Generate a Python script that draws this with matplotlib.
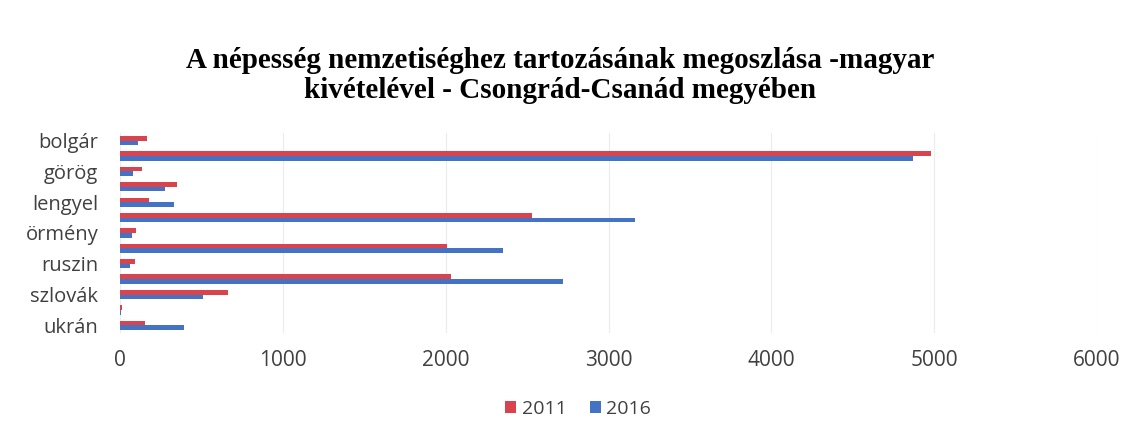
import numpy as np
import matplotlib.pyplot as plt

# Data
categories = ['bolgár', 'cigány', 'görög', 'horvát', 'lengyel', 'német', 'örmény',
              'román', 'ruszin', 'szerb', 'szlovák', 'szlovén', 'ukrán']
values_2011 = [165, 4980, 135, 350, 178, 2530, 95, 2005, 92, 2030, 663, 8, 153]
values_2016 = [110, 4870, 80, 276, 331, 3160, 70, 2350, 60, 2720, 510, 5, 393]
x_ticks = [0, 1000, 2000, 3000, 4000, 5000, 6000]

fig = plt.figure(figsize=(11.25, 4.37), dpi=100)
ax = fig.add_axes([0.107, 0.238, 0.868, 0.458])

y = np.arange(len(categories))
h = 0.3
ax.barh(y - h / 2, values_2011, height=h, color='#D9434E', label='2011', zorder=3)
ax.barh(y + h / 2, values_2016, height=h, color='#4472C4', label='2016', zorder=3)

ax.set_ylim(len(categories) - 0.5, -0.5)
ax.set_xlim(0, 6000)
ax.set_xticks(x_ticks)
ax.set_xticklabels([str(t) for t in x_ticks], fontsize=15, color='#404040',
                   family='Open Sans')
ax.set_yticks(y[::2])
ax.set_yticklabels(categories[::2], fontsize=14.5, color='#404040', family='Open Sans')
ax.tick_params(length=0, pad=16)
ax.tick_params(axis='x', pad=12)
ax.grid(axis='x', color='#ececec', linewidth=0.8, zorder=0)
for s in ax.spines.values():
    s.set_visible(False)

fig.text(0.498, 0.827, 'A népesség nemzetiséghez tartozásának megoszlása -magyar\n'
         'kivételével - Csongrád-Csanád megyében',
         ha='center', va='center', fontsize=21, fontweight='bold',
         family='Liberation Serif', linespacing=1.12)

fig.legend(loc='center', bbox_to_anchor=(0.514, 0.064), ncol=2, frameon=False,
           prop={'family': 'Open Sans', 'size': 14}, handlelength=0.55,
           handleheight=0.55, columnspacing=1.2, handletextpad=0.3,
           labelcolor='#404040')

fig.savefig('out.png', dpi=100, facecolor='white')
